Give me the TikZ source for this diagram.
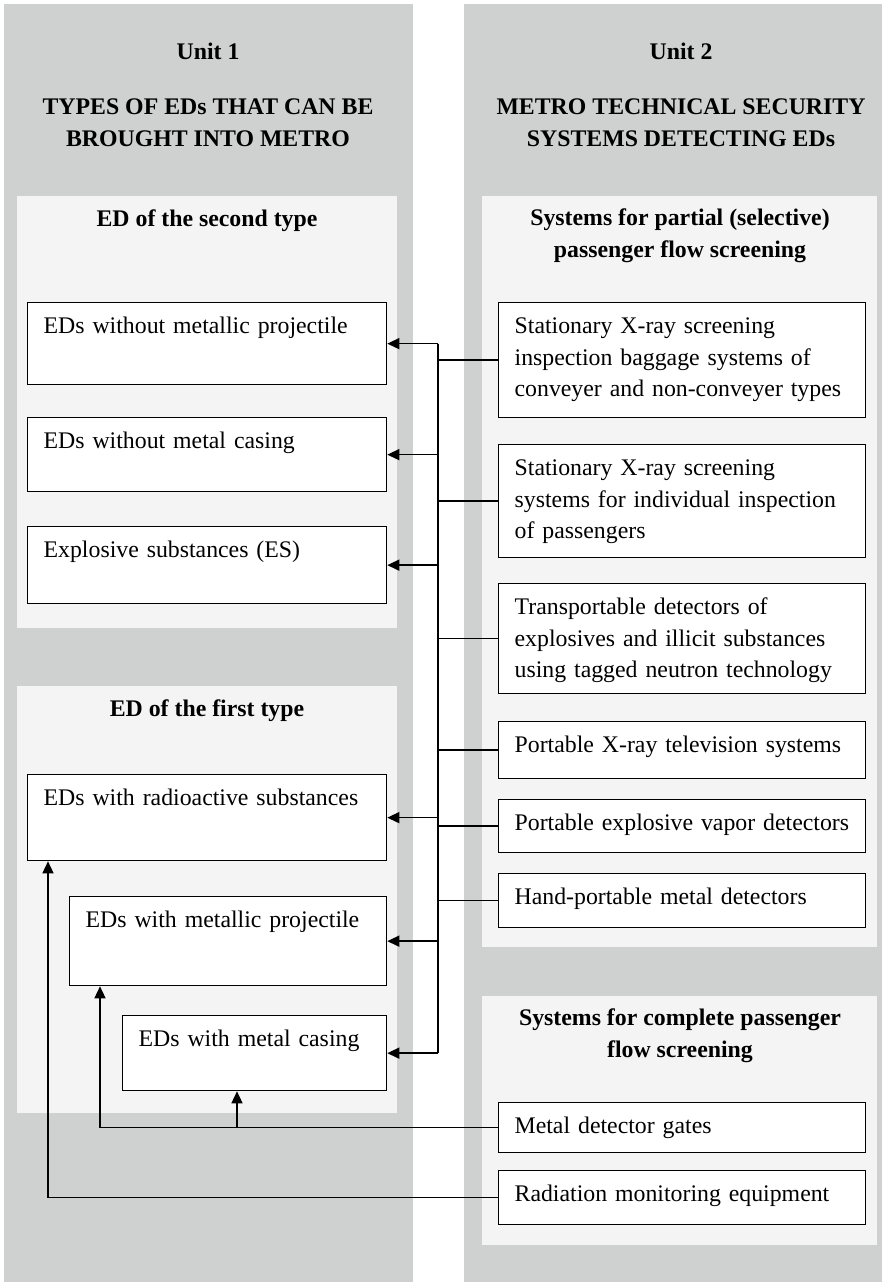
\documentclass[tikz,border=0pt]{standalone}
\usepackage{fontspec}
\setmainfont{Liberation Serif}
\usetikzlibrary{arrows.meta}
\definecolor{unitgray}{RGB}{207,209,208}
\definecolor{panelgray}{RGB}{244,244,244}
\begin{document}
\begin{tikzpicture}[x=1pt,y=-1pt,
  font=\fontsize{23.8}{31.5}\selectfont,
  head/.style={font=\fontsize{23.8}{31.5}\selectfont\bfseries, align=center, anchor=base, inner sep=0pt},
  edbox/.style={draw=black, line width=1.3pt, fill=white, anchor=north west, align=left,
    inner xsep=16pt, inner ysep=8pt, text height=23pt, text depth=#1},
  link/.style={line width=1.4pt},
  arr/.style={line width=1.4pt, -{Triangle[length=12pt,width=11pt]}}]
\useasboundingbox (0,0) rectangle (882,1282);
% units and panels
\fill[unitgray] (4,4) rectangle (413,1282);
\fill[unitgray] (464,4) rectangle (882,1282);
\fill[panelgray] (17,196) rectangle (397,628);
\fill[panelgray] (17,686) rectangle (397,1113);
\fill[panelgray] (482,196) rectangle (877,947);
\fill[panelgray] (482,996) rectangle (877,1245);
% headings (multi-line ones sit on their last line)
\node[head] (u1) at (208,59) {Unit 1};
\node[head] (t1) at (208,146) {TYPES OF EDs THAT CAN BE\\BROUGHT INTO METRO};
\node[head] (u2) at (681,59) {Unit 2};
\node[head] (t2) at (681,146) {METRO TECHNICAL SECURITY\\SYSTEMS DETECTING EDs};
\node[head] (h2) at (207,226) {ED of the second type};
\node[head] (h1) at (207,716) {ED of the first type};
\node[head] (hp) at (680,257) {Systems for partial (selective)\\passenger flow screening};
\node[head] (hc) at (680,1057) {Systems for complete passenger\\flow screening};
% types of EDs
\node[edbox=43pt, text width=327pt] (s1) at (27,302) {EDs without metallic projectile};
\node[edbox=35pt, text width=327pt] (s2) at (27,417) {EDs without metal casing};
\node[edbox=38pt, text width=327pt] (s3) at (27,526) {Explosive substances (ES)};
\node[edbox=47pt, text width=327pt] (f1) at (27,774) {EDs with radioactive substances};
\node[edbox=50pt, text width=285pt] (f2) at (69,896) {EDs with metallic projectile};
\node[edbox=36pt, text width=232pt] (f3) at (122,1015) {EDs with metal casing};
% security systems
\node[edbox=76pt, text width=335pt] (p1) at (498,302) {Stationary X-ray screening\\inspection baggage systems of\\conveyer and non-conveyer types};
\node[edbox=74pt, text width=335pt] (p2) at (498,444) {Stationary X-ray screening\\systems for individual inspection\\of passengers};
\node[edbox=71pt, text width=335pt] (p3) at (498,583) {Transportable detectors of\\explosives and illicit substances\\using tagged neutron technology};
\node[edbox=18pt, text width=335pt] (p4) at (498,721) {Portable X-ray television systems};
\node[edbox=14pt, text width=335pt] (p5) at (498,799) {Portable explosive vapor detectors};
\node[edbox=15pt, text width=335pt] (p6) at (498,873) {Hand-portable metal detectors};
\node[edbox=11pt, text width=335pt] (c1) at (498,1102) {Metal detector gates};
\node[edbox=15pt, text width=335pt] (c2) at (498,1170) {Radiation monitoring equipment};
% connectors
\coordinate (bus) at (438,0);
\coordinate (gx) at (100,0);
\coordinate (mx) at (237,0);
\coordinate (rx) at (48,0);
\draw[link] (s1.east -| bus) -- (f3.east -| bus);
\foreach \n in {s1,s2,s3,f1,f2,f3}
  \draw[arr] (\n.east -| bus) -- (\n.east);
\foreach \n in {p1,p2,p3,p4,p5,p6}
  \draw[link] (\n.west) -- (\n.west -| bus);
\draw[arr] (c1.west) -| (f2.south -| gx);
\draw[arr] (c1.west -| mx) -- (f3.south -| mx);
\draw[arr] (c2.west) -| (f1.south -| rx);
\end{tikzpicture}
\end{document}
